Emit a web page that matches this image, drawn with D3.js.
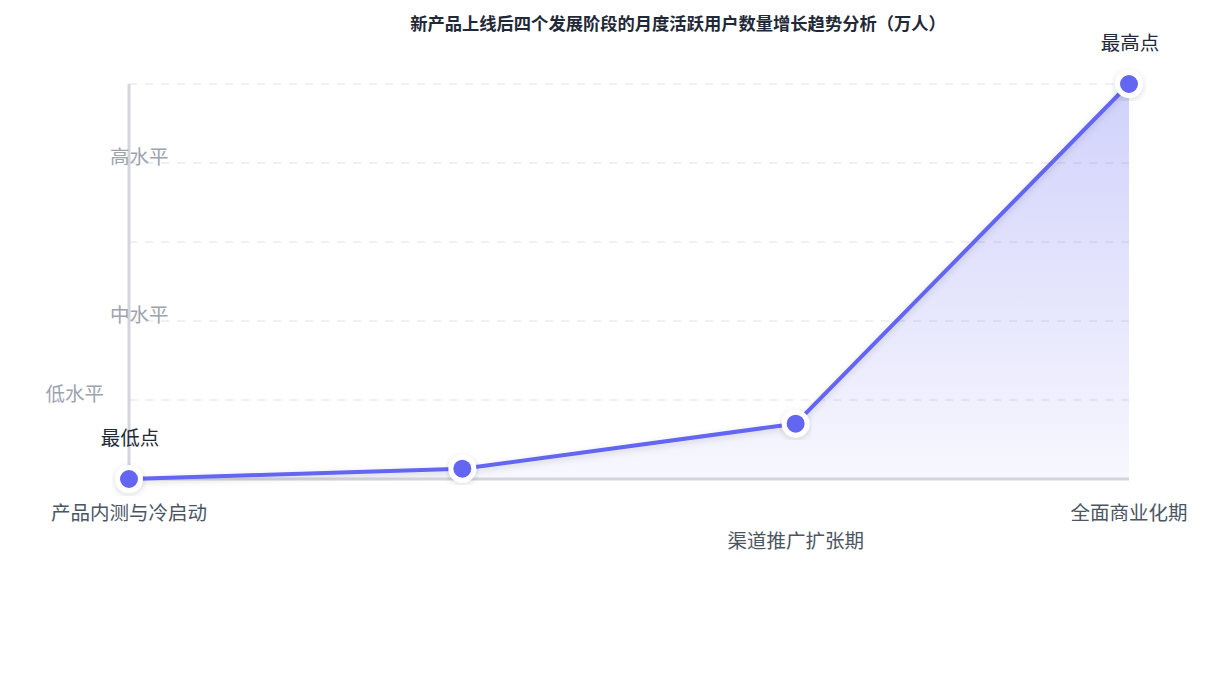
<!DOCTYPE html>
<html>
	<head>
		<meta charset="utf-8">
		<title>用户增长趋势</title>
		<script type="text/javascript" src="https://cdn.jsdelivr.net/npm/d3@7"></script>
		<style type="text/css">
			body{ margin: 0; background: #fff; }
			svg{ display: block; font-family: "Noto Sans CJK SC", "Noto Sans", sans-serif; }
		</style>
	</head>
	<body>
		<div id="chart"></div>
	</body>
	<script type="text/javascript">

		// data
		const titleText = "新产品上线后四个发展阶段的月度活跃用户数量增长趋势分析（万人）";
		const categories = ["产品内测与冷启动", "小范围公测", "渠道推广扩张期", "全面商业化期"];
		const shownCats = [true, false, true, true];
		const values = [0, 1.3, 7, 50];
		const valueLabels = ["最低点", "", "", "最高点"];
		const gridValues = [0, 10, 20, 30, 40, 50];
		const tickValues = [40, 20, 10];
		const tickLabels = ["高水平", "中水平", "低水平"];

		const w = 1230, h = 680;
		const pLeft = 129, pRight = 1129, pTop = 84, pBottom = 479;

		let svg = d3.select("#chart")
					.append("svg")
					.attr("width", w)
					.attr("height", h);

		let defs = svg.append("defs");

		let grad = defs.append("linearGradient")
					.attr("id", "areaGrad")
					.attr("x1", 0).attr("y1", 0)
					.attr("x2", 0).attr("y2", 1);
			grad.append("stop").attr("offset", "0%").attr("stop-color", "#6366f1").attr("stop-opacity", 0.3);
			grad.append("stop").attr("offset", "100%").attr("stop-color", "#6366f1").attr("stop-opacity", 0.05);

		let shadow = defs.append("filter")
					.attr("id", "shadow")
					.attr("x", "-20%").attr("y", "-20%")
					.attr("width", "140%").attr("height", "140%");
			shadow.append("feDropShadow")
					.attr("dx", 0).attr("dy", 2)
					.attr("stdDeviation", 3)
					.attr("flood-color", "#1f2937")
					.attr("flood-opacity", 0.15);

		let xScale = d3.scalePoint()
					.domain(categories)
					.range([pLeft, pRight])
					.padding(0);

		let yScale = d3.scaleLinear()
					.domain([0, 50])
					.range([pBottom, pTop]);

		// gridlines
		svg.append("g")
			.selectAll("line")
			.data(gridValues.slice(1))
			.enter()
			.append("line")
			.attr("x1", pLeft)
			.attr("x2", pRight)
			.attr("y1", function(d){ return yScale(d); })
			.attr("y2", function(d){ return yScale(d); })
			.attr("stroke", "#ececef")
			.attr("stroke-width", 1.5)
			.attr("stroke-dasharray", "8,8");

		// area
		let area = d3.area()
					.x(function(d, i){ return xScale(categories[i]); })
					.y0(yScale(0))
					.y1(function(d){ return yScale(d); });

		svg.append("path")
			.datum(values)
			.attr("d", area)
			.attr("fill", "url(#areaGrad)");

		// axes
		svg.append("line")
			.attr("x1", pLeft).attr("x2", pLeft)
			.attr("y1", pTop).attr("y2", pBottom)
			.attr("stroke", "#d4d5dc")
			.attr("stroke-width", 3);

		svg.append("line")
			.attr("x1", pLeft).attr("x2", pRight)
			.attr("y1", pBottom).attr("y2", pBottom)
			.attr("stroke", "#d4d5dc")
			.attr("stroke-width", 3);

		// y tick labels (the lowest one sits left of the axis)
		svg.append("g")
			.selectAll("text")
			.data(tickValues)
			.enter()
			.append("text")
			.text(function(d, i){ return tickLabels[i]; })
			.attr("x", function(d){ return d == 10 ? 104 : 110; })
			.attr("y", function(d){ return yScale(d) - 8; })
			.attr("text-anchor", function(d){ return d == 10 ? "end" : "start"; })
			.attr("dominant-baseline", "central")
			.attr("font-size", "19.5px")
			.attr("fill", "#9ca3af");

		// line
		let line = d3.line()
					.x(function(d, i){ return xScale(categories[i]); })
					.y(function(d){ return yScale(d); });

		svg.append("path")
			.datum(values)
			.attr("d", line)
			.attr("fill", "none")
			.attr("stroke", "#6366f1")
			.attr("stroke-width", 4)
			.attr("stroke-linejoin", "round")
			.attr("filter", "url(#shadow)");

		// points
		svg.append("g")
			.selectAll("circle")
			.data(values)
			.enter()
			.append("circle")
			.attr("cx", function(d, i){ return xScale(categories[i]); })
			.attr("cy", function(d){ return yScale(d); })
			.attr("r", 11.5)
			.attr("fill", "#6366f1")
			.attr("stroke", "#fff")
			.attr("stroke-width", 5)
			.attr("filter", "url(#shadow)");

		// value labels
		svg.append("g")
			.selectAll("text")
			.data(values)
			.enter()
			.append("text")
			.text(function(d, i){ return valueLabels[i]; })
			.attr("x", function(d, i){ return xScale(categories[i]) + 1; })
			.attr("y", function(d){ return yScale(d) - 43; })
			.attr("text-anchor", "middle")
			.attr("dominant-baseline", "central")
			.attr("font-size", "19.5px")
			.attr("fill", "#1f2937");

		// x labels
		svg.append("g")
			.selectAll("text")
			.data(categories)
			.enter()
			.append("text")
			.text(function(d, i){ return shownCats[i] ? d : ""; })
			.attr("x", function(d){ return xScale(d); })
			.attr("y", function(d, i){ return i == 2 ? 539 : 511; })
			.attr("text-anchor", "middle")
			.attr("dominant-baseline", "central")
			.attr("font-size", "19.5px")
			.attr("fill", "#4b5563");

		// title
		svg.append("text")
			.text(titleText)
			.attr("x", 678)
			.attr("y", 22)
			.attr("text-anchor", "middle")
			.attr("dominant-baseline", "central")
			.attr("font-size", "17.3px")
			.attr("font-weight", 600)
			.attr("fill", "#1f2937");

	</script>
</html>
